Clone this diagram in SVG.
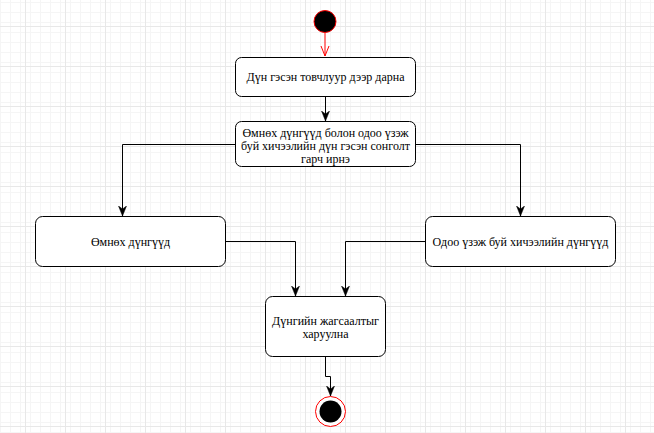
<svg xmlns="http://www.w3.org/2000/svg" width="654" height="433" viewBox="0 0 654 433">
<defs>
<pattern id="minor" width="10" height="10" patternUnits="userSpaceOnUse" x="5" y="6">
<path d="M0 0.5H10M0.5 0V10" fill="none" stroke="#f5f5f5" stroke-width="1"/>
</pattern>
<pattern id="major" width="40" height="40" patternUnits="userSpaceOnUse" x="25" y="26">
<rect width="40" height="40" fill="url(#minor)"/>
<path d="M0 0.5H40M0.5 0V40" fill="none" stroke="#e8e8e8" stroke-width="1"/>
</pattern>
<marker id="arr" viewBox="0 0 10 10" refX="10" refY="5" markerWidth="10" markerHeight="10" markerUnits="userSpaceOnUse" orient="auto">
<path d="M0 1L10 5L0 9L3 5Z" fill="#000" stroke="#000" stroke-width="0.5"/>
</marker>
<marker id="open" viewBox="0 0 10 10" refX="10" refY="5" markerWidth="10" markerHeight="10" markerUnits="userSpaceOnUse" orient="auto">
<path d="M0 1L10 5L0 9" fill="none" stroke="#ff0000" stroke-width="1"/>
</marker>
</defs>
<style>
.box{fill:#fff;stroke:#000;stroke-width:1}
.t{font-family:"Liberation Serif","Times New Roman","DejaVu Serif",serif;font-size:12px;fill:#000;text-anchor:middle}
.c{fill:none;stroke:#000;stroke-width:1}
</style>
<rect width="654" height="433" fill="#fff"/>
<rect width="654" height="433" fill="url(#major)"/>
<g id="start">
<circle cx="325" cy="21.5" r="11" fill="#000" stroke="#ff0000" stroke-width="1"/>
</g>
<g id="n1">
<rect class="box" x="235.5" y="57.5" width="180" height="39" rx="6"/>
<text class="t" x="325.5" y="81">Дүн гэсэн товчлуур дээр дарна</text>
</g>
<g id="n2">
<rect class="box" x="235.5" y="121.5" width="180" height="45" rx="6"/>
<text class="t" x="325.5" y="137">Өмнөх дүнгүүд болон одоо үзэж</text>
<text class="t" x="325.5" y="150">буй хичээлийн дүн гэсэн сонголт</text>
<text class="t" x="325.5" y="163">гарч ирнэ</text>
</g>
<g id="n3">
<rect class="box" x="35.5" y="216.5" width="190" height="50" rx="7"/>
<text class="t" x="130.5" y="245.5">Өмнөх дүнгүүд</text>
</g>
<g id="n4">
<rect class="box" x="425.5" y="216.5" width="190" height="50" rx="7"/>
<text class="t" x="520.5" y="245.5">Одоо үзэж буй хичээлийн дүнгүүд</text>
</g>
<g id="n5">
<rect class="box" x="265.5" y="296.5" width="120" height="60" rx="7"/>
<text class="t" x="325.5" y="324.5">Дүнгийн жагсаалтыг</text>
<text class="t" x="325.5" y="338">харуулна</text>
</g>
<g id="end">
<circle cx="330.5" cy="411.5" r="15" fill="#fff" stroke="#ff0000" stroke-width="1"/>
<circle cx="330.5" cy="411.5" r="11" fill="#000"/>
</g>
<g id="connectors">
<path d="M325 33V56" fill="none" stroke="#ff0000" stroke-width="1" marker-end="url(#open)"/>
<path class="c" d="M325.5 97V121" marker-end="url(#arr)"/>
<path class="c" d="M235 144.5H122.5V216" marker-end="url(#arr)"/>
<path class="c" d="M416 144.5H520.5V216" marker-end="url(#arr)"/>
<path class="c" d="M226 241.5H295.5V296" marker-end="url(#arr)"/>
<path class="c" d="M425 241.5H345.5V296" marker-end="url(#arr)"/>
<path class="c" d="M325.5 357V376.5H330.5V396" marker-end="url(#arr)"/>
</g>
</svg>
